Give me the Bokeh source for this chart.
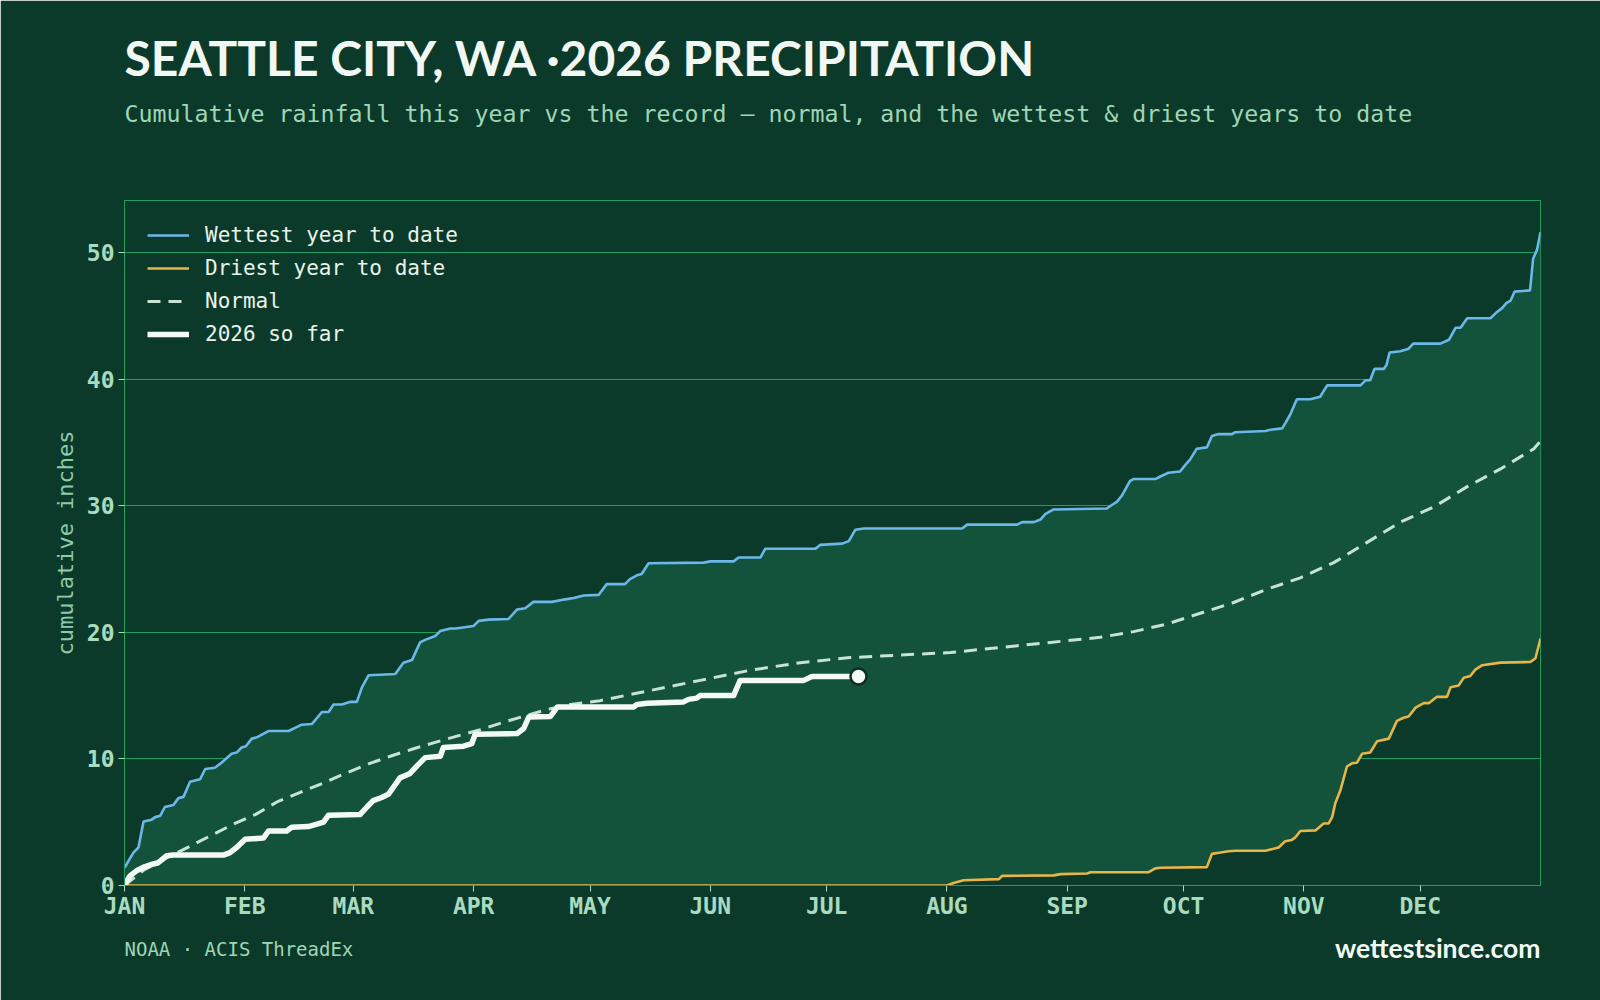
from bokeh.plotting import figure
from bokeh.models import Range1d, FixedTicker, Title, Legend, LegendItem
from bokeh.embed import file_html
from bokeh.resources import INLINE

# ---------------- data (day of year, cumulative inches) ----------------
month_days = [0, 31, 59, 90, 120, 151, 181, 212, 243, 273, 304, 334]
month_labels = ["JAN", "FEB", "MAR", "APR", "MAY", "JUN", "JUL", "AUG", "SEP", "OCT", "NOV", "DEC"]
y_ticks = [0, 10, 20, 30, 40, 50]

wettest_day = [0, 2.3, 3.6, 4.9, 7, 7.9, 9.2, 10.4, 12.6, 13.9, 15.2, 16.9, 19.5, 20.8, 23.3, 25,
               27.6, 28.9, 30.2, 31.3, 32.8, 34.1, 37.1, 42.3, 45.7, 48.3, 50.9, 52.6, 53.9, 56,
               58.1, 59.9, 61.2, 62.9, 65.9, 69.8, 71.9, 74.1, 76.2, 77.5, 80.1, 81.4, 84, 85.3,
               90, 91.3, 93.8, 99, 101.2, 103.3, 105.4, 110.2, 113.6, 115.8, 118.4, 122.2, 124.3,
               129.0, 130.3, 132.1, 133.3, 135.1, 149.3, 151.0, 157.0, 158.3, 163.9, 165.2, 178.1,
               179.3, 185.0, 186.7, 188.4, 190.5, 215.9, 217.2, 230.1, 231.4, 234.4, 236.1, 237.4,
               239.5, 253.2, 254.5, 255.8, 257.1, 259.2, 260.1, 265.7, 267.0, 269.1, 272.1, 273.4,
               274.7, 276.4, 279.0, 280.3, 282.0, 285.5, 286.3, 294.1, 295.4, 298.4, 299.2, 300.5,
               302.2, 305.7, 308.2, 310.0, 318.6, 319.9, 321.1, 322.2, 324.6, 325.3, 326.1, 328.9,
               331.0, 332.2, 339.2, 341.4, 343.1, 344.4, 346.1, 352.1, 353.8, 355.1, 356.2, 357.3,
               358.3, 362.3, 363.1, 364.1, 365]
wettest_val = [1.4, 2.6, 3.0, 5.06, 5.2, 5.4, 5.5, 6.2, 6.35, 6.9, 7.0, 8.2, 8.4, 9.2, 9.3, 9.7,
               10.4, 10.5, 10.9, 11.0, 11.6, 11.7, 12.2, 12.2, 12.7, 12.75, 13.7, 13.7, 14.3, 14.3,
               14.5, 14.5, 15.65, 16.6, 16.65, 16.7, 17.6, 17.8, 19.2, 19.4, 19.7, 20.1, 20.3, 20.3,
               20.5, 20.9, 21.0, 21.05, 21.8, 21.9, 22.4, 22.4, 22.6, 22.7, 22.9, 22.95, 23.8,
               23.8, 24.2, 24.5, 24.6, 25.45, 25.5, 25.6, 25.6, 25.9, 25.9, 26.6, 26.6,
               26.9, 27.0, 27.2, 28.1, 28.2, 28.2, 28.5, 28.5, 28.7, 28.7, 28.9, 29.35,
               29.7, 29.77, 30.05, 30.3, 30.8, 31.95, 32.1, 32.1, 32.3, 32.6, 32.7, 33.2,
               33.65, 34.5, 34.6, 35.5, 35.65, 35.65, 35.8, 35.9, 36.0, 36.1, 36.5, 37.2,
               38.4, 38.4, 38.6, 39.5, 39.5, 39.9, 39.9, 40.8, 40.8, 41.1, 42.1, 42.2,
               42.4, 42.8, 42.8, 43.1, 44.05, 44.05, 44.8, 44.8, 45.3, 45.6, 46.0, 46.2,
               46.9, 47.0, 49.5, 50.2, 51.6]

driest_day = [0, 212, 213.7, 216.3, 225.4, 226.2, 239.5, 241.3, 248.1, 249, 264.0, 265.7, 267,
              279.0, 280.3, 282.5, 284.6, 286.3, 294.1, 296.2, 297.5, 299.2, 300.9, 301.8, 303.1,
              307.0, 309.1, 310.4, 311.3, 312.1, 313.4, 315.1, 316.4, 317.7, 319.0, 321.1, 322.9,
              325.9, 328.0, 329.7, 331.0, 332.8, 334.9, 336.2, 338.3, 340.9, 341.8, 343.9, 345.2,
              346.9, 348.2, 350.0, 354.7, 362.4, 363.7, 365]
driest_val = [0, 0, 0.2, 0.42, 0.5, 0.76, 0.8, 0.9, 0.95, 1.05, 1.05, 1.35, 1.4,
              1.45, 2.5, 2.6, 2.7, 2.75, 2.75, 2.9, 3.0, 3.5, 3.6, 3.8, 4.3,
              4.35, 4.9, 4.9, 5.4, 6.5, 7.5, 9.4, 9.65, 9.7, 10.4, 10.5, 11.4,
              11.6, 13.0, 13.25, 13.35, 14.05, 14.4, 14.4, 14.9, 14.9, 15.65, 15.8, 16.4,
              16.55, 17.05, 17.4, 17.6, 17.65, 17.95, 19.5]

normal_day = [0, 4.9, 10.9, 16.9, 22, 28.1, 33.7, 39.3, 45.3, 51.3, 57.3, 62.9, 68.9, 74.5, 80.1,
              85.7, 91.7, 97.8, 103.3, 108.9, 114.9, 122.6, 135.5, 148.4, 161.3, 174.2, 187.1,
              200, 212.9, 225.8, 238.7, 251.5, 260.1, 268.7, 277.3, 285.9, 294.5, 303.1, 311.7,
              320.3, 328.9, 337.5, 346.1, 354.7, 363.3, 365]
normal_val = [0, 1.2, 2.2, 3.1, 3.9, 4.85, 5.6, 6.6, 7.35, 8.1, 8.9, 9.6, 10.25, 10.8, 11.3,
              11.8, 12.3, 12.9, 13.4, 13.9, 14.3, 14.6, 15.4, 16.2, 17.0, 17.6, 18.0,
              18.2, 18.4, 18.8, 19.2, 19.6, 20.05, 20.65, 21.5, 22.35, 23.4, 24.3, 25.5,
              27.1, 28.7, 29.9, 31.5, 32.9, 34.5, 35.1]

ytd_day = [0, 1.4, 3.1, 5.3, 7.4, 8.7, 10.9, 12.6, 25.5, 27.2, 28.9, 31.1, 35.8, 37.1, 41.8, 43.1,
           47.4, 49.6, 51.3, 52.6, 60.7, 62.5, 64.1, 66.3, 68.0, 69.3, 71.0, 73.6, 75.4, 77.5,
           81.4, 82.2, 87.4, 89.5, 90.4, 101.2, 102.9, 104.2, 109.8, 111.6, 131.2, 132.1, 134.7,
           144.1, 145.4, 147.5, 148.4, 157.0, 158.7, 175.1, 177.2, 189.2]
ytd_val = [0, 0.76, 1.16, 1.5, 1.7, 1.8, 2.35, 2.4, 2.4, 2.6, 3.0, 3.65, 3.75, 4.3, 4.3, 4.6,
           4.65, 4.85, 5.0, 5.55, 5.6, 6.2, 6.7, 6.95, 7.2, 7.75, 8.5, 8.85, 9.45, 10.1,
           10.2, 10.9, 11.0, 11.2, 11.95, 12.0, 12.4, 13.3, 13.35, 14.1, 14.1, 14.3, 14.4,
           14.5, 14.7, 14.8, 15.0, 15.0, 16.2, 16.2, 16.5, 16.5]

title_text = "SEATTLE CITY, WA ·2026 PRECIPITATION"
subtitle_text = "Cumulative rainfall this year vs the record — normal, and the wettest & driest years to date"
source_text = "NOAA · ACIS ThreadEx"
brand_text = "wettestsince.com"

# ---------------- styling ----------------
BG = "#0c3a2a"
BAND = "#13523b"
GRID = "#1f9e5d"
TICK_TXT = "#a9dcbf"
MONO = "DejaVu Sans Mono"

p = figure(width=1600, height=1000, x_range=Range1d(0, 365), y_range=Range1d(0, 54.1),
           output_backend="svg", toolbar_location=None, title=None,
           min_border_left=124, min_border_right=60, min_border_top=200, min_border_bottom=115)
p.background_fill_color = BG
p.border_fill_color = BG
p.outline_line_color = GRID
p.outline_line_width = 1

p.xgrid.grid_line_color = None
p.ygrid.grid_line_color = GRID
p.ygrid.grid_line_width = 1

p.xaxis.ticker = FixedTicker(ticks=month_days)
p.xaxis.major_label_overrides = {d: m for d, m in zip(month_days, month_labels)}
p.yaxis.ticker = FixedTicker(ticks=y_ticks)
for ax in (p.xaxis[0], p.yaxis[0]):
    ax.axis_line_color = GRID
    ax.major_tick_line_color = TICK_TXT
    ax.major_tick_out = 6
    ax.major_tick_in = 0
    ax.minor_tick_line_color = None
    ax.major_label_text_font = MONO
    ax.major_label_text_font_style = "bold"
    ax.major_label_text_font_size = "23px"
    ax.major_label_text_color = TICK_TXT
p.xaxis.major_label_standoff = 1
p.yaxis.major_label_standoff = 4
p.yaxis.axis_label = "cumulative inches"
p.yaxis.axis_label_text_font = MONO
p.yaxis.axis_label_text_font_style = "normal"
p.yaxis.axis_label_text_font_size = "22px"
p.yaxis.axis_label_text_color = "#8ecba8"
p.yaxis.axis_label_standoff = 6

# band between driest and wettest
p.patch(wettest_day + driest_day[::-1], wettest_val + driest_val[::-1],
        fill_color=BAND, line_color=None)

r_wet = p.line(wettest_day, wettest_val, line_color="#6cb8ea", line_width=2.6)
r_dry = p.line(driest_day, driest_val, line_color="#e8b548", line_width=2.6)
r_norm = p.line(normal_day, normal_val, line_color="#c6e4d0", line_width=3, line_dash="13 8")
r_ytd = p.line(ytd_day, ytd_val, line_color="#f3faf5", line_width=5.5, line_join="round")
p.scatter([ytd_day[-1]], [ytd_val[-1]], size=16, fill_color="#f3faf5",
          line_color="#0a2e21", line_width=2.5)

legend = Legend(items=[
    LegendItem(label="Wettest year to date", renderers=[r_wet]),
    LegendItem(label="Driest year to date", renderers=[r_dry]),
    LegendItem(label="Normal", renderers=[r_norm]),
    LegendItem(label="2026 so far", renderers=[r_ytd]),
], location="top_left")
legend.background_fill_alpha = 0
legend.border_line_alpha = 0
legend.label_text_font = MONO
legend.label_text_font_size = "21px"
legend.label_text_color = "#e8f3ec"
legend.glyph_width = 42
legend.glyph_height = 20
legend.label_height = 20
legend.label_standoff = 16
legend.spacing = 9
legend.margin = 13
legend.padding = 10
p.add_layout(legend)

# header (first added sits closest to the frame): spacer, subtitle, title
p.add_layout(Title(text=" ", text_font_size="2px", standoff=70), "above")
p.add_layout(Title(text=subtitle_text, align="left", text_font=MONO, text_font_style="normal",
                   text_font_size="23.25px", text_color="#9fd6b6", standoff=0), "above")
p.add_layout(Title(text=title_text, align="left", text_font="Lato", text_font_style="bold",
                   text_font_size="48px", text_color="#f1f8f3", standoff=23), "above")
# footer
p.add_layout(Title(text=source_text, align="left", text_font=MONO, text_font_style="normal",
                   text_font_size="19px", text_color="#9fd6b6", standoff=28), "below")
p.add_layout(Title(text=brand_text, align="right", vertical_align="top", text_font="Lato",
                   text_font_style="bold", text_font_size="26.5px", text_color="#f4faf6",
                   standoff=-84), "below")

open("out.html", "w").write(file_html(p, INLINE))
